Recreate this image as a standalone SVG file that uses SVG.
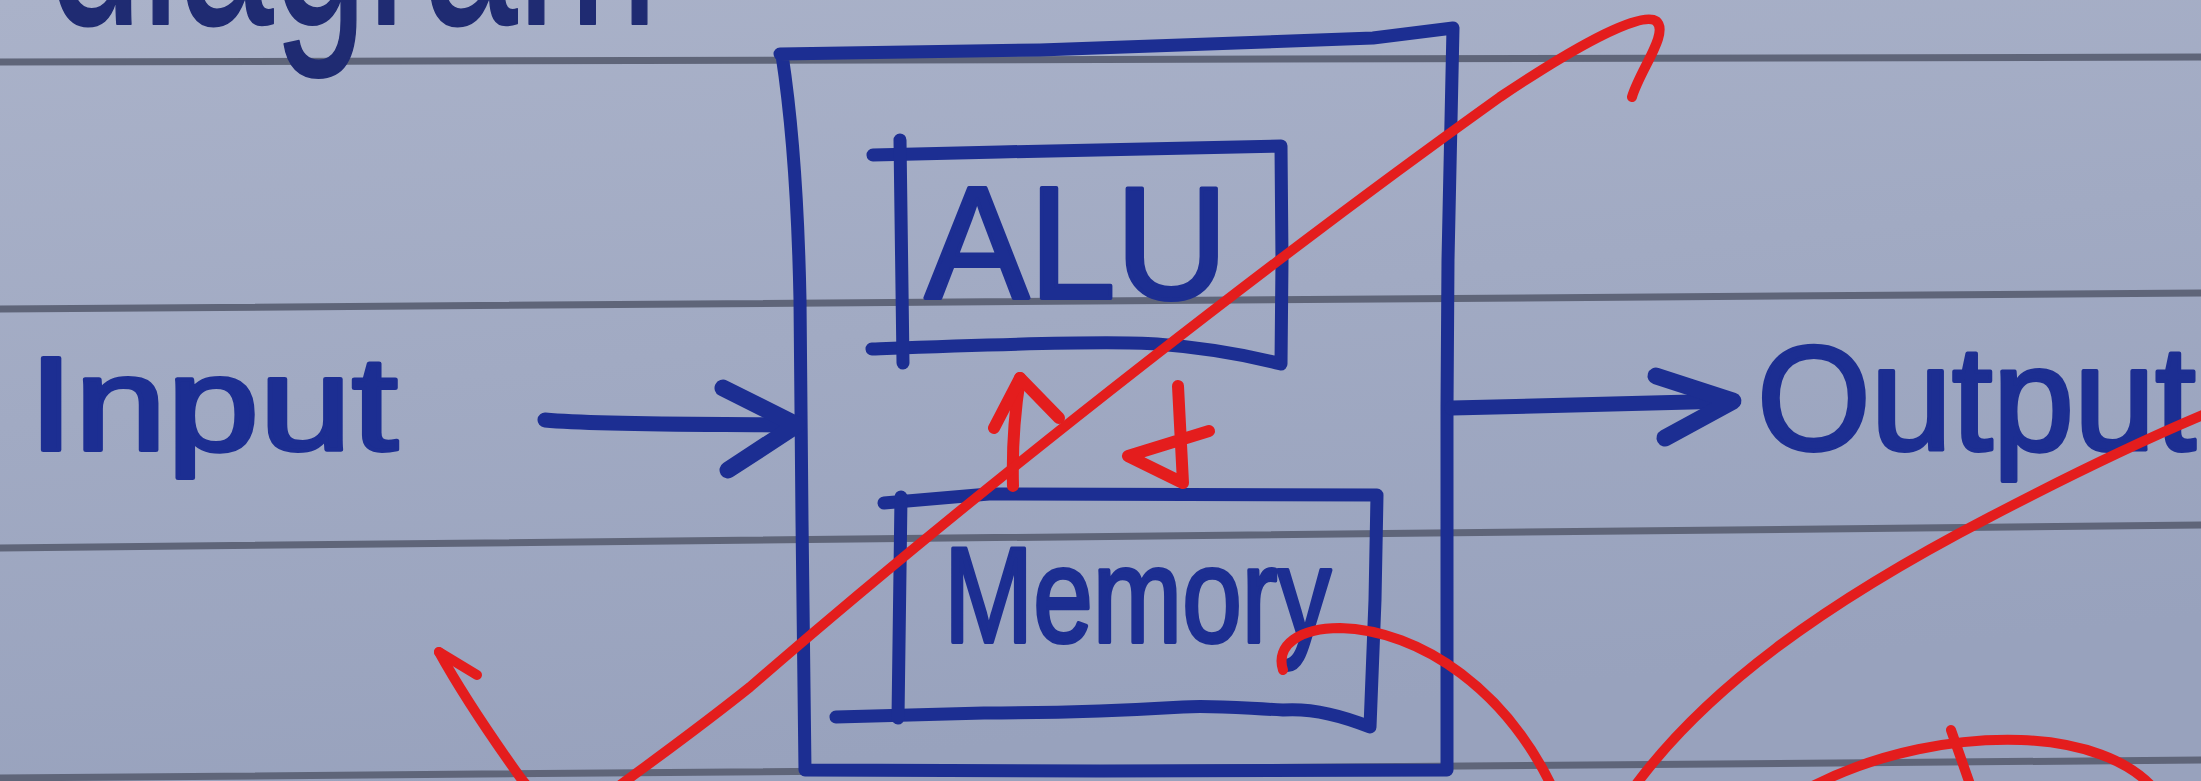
<svg xmlns="http://www.w3.org/2000/svg" width="2201" height="781" viewBox="0 0 2201 781">
<defs>
<linearGradient id="paper" x1="0" y1="0" x2="0.3" y2="1">
<stop offset="0" stop-color="#aab2c9"/>
<stop offset="1" stop-color="#98a2bd"/>
</linearGradient>
<style>
.rule{fill:none;stroke:#5f6579;stroke-width:7;stroke-linecap:round}
.ink{fill:none;stroke:#1c2e92;stroke-width:13;stroke-linecap:round;stroke-linejoin:round}
.head{fill:none;stroke:#1c2e92;stroke-width:17;stroke-linecap:round;stroke-linejoin:round}
.red{fill:none;stroke:#e41d1d;stroke-width:10;stroke-linecap:round;stroke-linejoin:round}
.label{font-family:"Liberation Sans",Arial,sans-serif;fill:#1c2e92;stroke:#1c2e92;stroke-width:4;stroke-linejoin:round}
</style>
</defs>
<rect x="0" y="0" width="2201" height="781" fill="url(#paper)"/>
<g id="paper-rules">
<path class="rule" d="M0,62 L2201,57"/>
<path class="rule" d="M0,309 L2201,293"/>
<path class="rule" d="M0,548 L2201,525"/>
<path class="rule" d="M0,778 L2201,760"/>
</g>
<text class="label" x="48" y="24" font-size="260" textLength="610" lengthAdjust="spacingAndGlyphs" style="fill:#1f2b72;stroke:#1f2b72;stroke-width:2">diagram</text>
<g id="node-input">
<text class="label" x="28" y="450" font-size="134" textLength="370" lengthAdjust="spacingAndGlyphs">Input</text>
</g>
<g id="node-cpu">
<path class="ink" d="M780,54 L1040,50 L1373,38 L1453,28 L1448,260 L1447,407 L1447,770 L1100,771 L805,770 L802,520 L800,300 C798,200 792,120 782,55"/>
</g>
<g id="node-alu">
<path class="ink" d="M873,155 L1000,152 L1281,146 L1282,260 L1281,364 C1250,356 1210,348 1157,344 C1100,340 950,346 872,349"/>
<path class="ink" d="M900,140 L903,363"/>
<text class="label" x="925" y="298" font-size="160" textLength="303" lengthAdjust="spacingAndGlyphs">ALU</text>
</g>
<g id="node-memory">
<path class="ink" d="M884,503 L989,494 L1377,495 L1375,600 L1370,727 C1340,715 1310,708 1283,710 C1240,708 1210,705 1183,707 C1100,712 1040,713 984,713 C920,715 870,716 836,717"/>
<path class="ink" d="M901,497 L898,718"/>
<text class="label" x="944" y="642" font-size="135" textLength="387" lengthAdjust="spacingAndGlyphs">Memory</text>
</g>
<g id="node-output">
<text class="label" x="1757" y="450" font-size="148" textLength="439" lengthAdjust="spacingAndGlyphs">Output</text>
</g>
<g id="connectors">
<path class="ink" d="M545,420 C600,425 700,424 795,425" style="stroke-width:15"/>
<path class="head" d="M723,388 L797,425 L728,470"/>
<path class="ink" d="M1452,408 L1730,401" style="stroke-width:15"/>
<path class="head" d="M1656,376 L1733,401 L1665,438"/>
<path class="red" d="M1013,486 C1012,450 1015,410 1020,378" style="stroke-width:12"/>
<path class="red" d="M994,428 L1020,378 L1059,418" style="stroke-width:12"/>
<path class="red" d="M1178,386 L1183,483 L1128,456 L1209,431" style="stroke-width:12"/>
</g>
<g id="annotations">
<path class="red" d="M1632,97 C1640,70 1670,32 1656,21 C1640,10 1570,50 1500,97 C1300,240 1000,470 750,687 C690,735 640,770 600,800 C575,815 540,805 520,777 C490,735 460,690 439,652"/>
<path class="red" d="M439,652 L477,675"/>
<path class="red" d="M1283,670 C1275,645 1300,628 1340,628 C1420,630 1510,690 1558,800"/>
<path class="red" d="M1625,800 C1700,690 1830,600 1990,517 C2080,470 2150,437 2210,412"/>
<path class="red" d="M1805,790 C1880,750 1960,738 2021,740 C2080,742 2130,760 2155,790"/>
<path class="red" d="M1951,730 L1972,790"/>
</g>
</svg>
